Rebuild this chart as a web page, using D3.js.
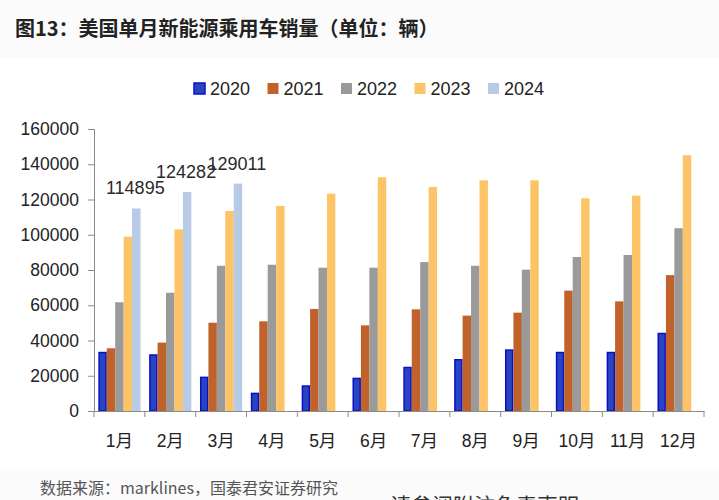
<!DOCTYPE html>
<html><head><meta charset="utf-8">
<script src="https://cdn.jsdelivr.net/npm/d3@7"></script>
<style>
html,body{margin:0;padding:0;background:#fff;}
svg{display:block;}
</style></head>
<body>
<svg id="c" width="719" height="500"></svg>
<script>
const months = ["1月","2月","3月","4月","5月","6月","7月","8月","9月","10月","11月","12月"];
const seriesNames = ["2020","2021","2022","2023","2024"];
const v2020 = [33600,32200,19500,10400,14600,18900,25100,29500,35000,33600,33600,44400];
const v2021 = [35600,38800,50100,50900,57900,48600,57700,54100,55800,68300,62200,77100];
const v2022 = [61700,67100,82400,83000,81300,81300,84500,82400,80200,87400,88500,103700];
const v2023 = [98900,103100,113500,116300,123300,132600,127100,130900,130900,120700,122200,145100];
const v2024 = [114895,124282,129011];
const yTicks = [0,20000,40000,60000,80000,100000,120000,140000,160000];
const colors = ["#2a44c0","#c0622a","#9a9a9a","#fdc467","#b7cbe6"];
const title = "图13：美国单月新能源乘用车销量（单位：辆）";
const source = "数据来源：marklines，国泰君安证券研究";

const svg = d3.select("#c");
svg.append("rect").attr("x",0).attr("y",0).attr("width",719).attr("height",500).attr("fill","#fbfbfc");
svg.append("rect").attr("x",0).attr("y",58).attr("width",719).attr("height",410).attr("fill","#ffffff");

svg.append("text").attr("x",15).attr("y",36)
  .style("font-family","'Noto Sans CJK SC'").style("font-weight","bold").style("font-size","20px")
  .attr("fill","#222").text(title);

const x0 = d3.scaleBand().domain(months).range([94,704]).paddingInner(0).paddingOuter(0);
const bw = x0.bandwidth();
const x1 = d3.scaleBand().domain(seriesNames).range([bw*0.085, bw*0.915]).padding(0);
const y = d3.scaleLinear().domain([0,160000]).range([411,129]);

const all = [v2020,v2021,v2022,v2023,v2024];
const data = [];
all.forEach((arr,si)=>arr.forEach((v,mi)=>data.push({m:months[mi],s:seriesNames[si],si,v})));

svg.append("g").selectAll("rect").data(data).join("rect")
  .attr("x",d=>x0(d.m)+x1(d.s) + (d.si===0?0.75:0))
  .attr("width",d=>x1.bandwidth() - (d.si===0?1.5:0))
  .attr("y",d=>y(d.v) + (d.si===0?0.75:0))
  .attr("height",d=>y(0)-y(d.v) - (d.si===0?0.75:0))
  .attr("fill",d=>colors[d.si])
  .attr("stroke",d=>d.si===0?"#0a10c8":"none")
  .attr("stroke-width",1.5);

svg.append("g").selectAll("text").data(v2024).join("text")
  .attr("x",(d,i)=>x0(months[i])+x1("2024")+x1.bandwidth()/2 - 1)
  .attr("y",d=>y(d)-14)
  .attr("text-anchor","middle")
  .style("font-family","'Liberation Sans'").style("font-size","18px").attr("fill","#2a2a2a")
  .text(d=>d);

const yAxis = d3.axisLeft(y).tickValues(yTicks).tickSize(6).tickPadding(9).tickFormat(d3.format("d"));
const gy = svg.append("g").attr("transform","translate(94,0)").call(yAxis);
gy.attr("font-size",null).attr("font-family",null);
gy.select(".domain").attr("stroke","#8a8a8a");
gy.selectAll(".tick line").attr("stroke","#8a8a8a");
gy.selectAll(".tick text").style("font-family","'Liberation Sans'").style("font-size","17.5px").attr("fill","#222");

const xAxis = d3.axisBottom(x0).tickSize(0).tickPadding(24);
const gx = svg.append("g").attr("transform","translate(0,411)").call(xAxis);
gx.attr("font-size",null).attr("font-family",null);
gx.select(".domain").attr("stroke","#8a8a8a");
gx.selectAll(".tick text").style("font-family","'Liberation Sans','Noto Sans CJK SC'").style("font-size","17.5px").attr("fill","#222");
const bounds = months.map(m=>x0(m)).concat([x0(months[months.length-1])+bw]);
gx.append("g").selectAll("line").data(bounds).join("line")
  .attr("x1",d=>d).attr("x2",d=>d).attr("y1",0).attr("y2",6).attr("stroke","#8a8a8a");

const leg = svg.append("g").selectAll("g").data(seriesNames).join("g")
  .attr("transform",(d,i)=>`translate(${194+i*73.5},83)`);
leg.append("rect").attr("width",11).attr("height",11)
  .attr("fill",(d,i)=>colors[i])
  .attr("stroke",(d,i)=>i===0?"#0a10c8":"none").attr("stroke-width",1.5);
leg.append("text").attr("x",16).attr("y",12)
  .style("font-family","'Liberation Sans'").style("font-size","18px").attr("fill","#222").text(d=>d);

svg.append("text").attr("x",40).attr("y",494)
  .style("font-family","'Noto Sans CJK SC'").style("font-size","16px").attr("fill","#555").text(source);
svg.append("text").attr("x",390).attr("y",513)
  .style("font-family","'Noto Sans CJK SC'").style("font-size","21px").attr("fill","#333").text("请参阅附注免责声明");
</script>
</body></html>
